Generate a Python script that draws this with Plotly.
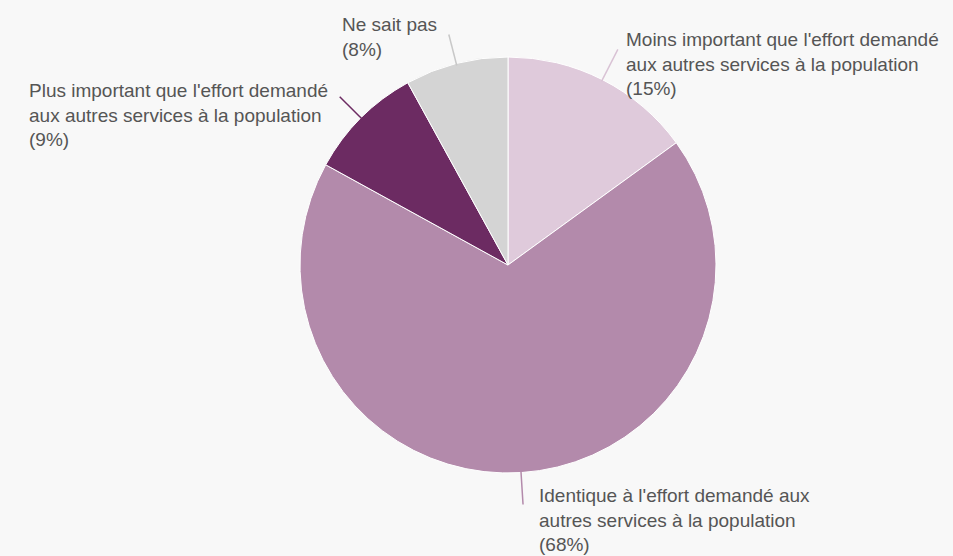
import math
import plotly.graph_objects as go

# Survey answers (clockwise from 12 o'clock) and their shares in %
categories = [
    "Moins important que l'effort demandé<br>aux autres services à la population",
    "Identique à l'effort demandé aux<br>autres services à la population",
    "Plus important que l'effort demandé<br>aux autres services à la population",
    "Ne sait pas",
]
shares = [15, 68, 9, 8]
colors = ["#dfcadb", "#b38aab", "#6c2b62", "#d4d4d4"]
leader_colors = ["#d9c3d5", "#b38aab", "#6c2b62", "#c8c8c8"]

W, H = 953, 556
CX, CY, R = 508, 265, 208          # pie centre and radius in pixels

# label placement: leader length, text offset from leader end, anchor side
leader_len = [34, 32, 30, 30]
text_dx = [6, 14, -10, -10]
text_dy = [-22, -22, -19, -22]
text_side = ["left", "left", "right", "right"]

BG = "#f8f8f8"
TEXT = "#555555"


def px(x):
    return x / W


def py(y):
    return 1 - y / H


fig = go.Figure(
    go.Pie(
        labels=categories,
        values=shares,
        marker=dict(colors=colors, line=dict(color="white", width=1)),
        sort=False,
        direction="clockwise",
        rotation=0,
        textinfo="none",
        hoverinfo="label+percent",
        domain=dict(x=[px(CX - R), px(CX + R)], y=[py(CY + R), py(CY - R)]),
        showlegend=False,
    )
)

total = sum(shares)
start = 0.0
shapes, annotations = [], []
for i, (lab, v) in enumerate(zip(categories, shares)):
    mid = (start + v / 2) / total * 2 * math.pi
    start += v
    sx, sy = math.sin(mid), -math.cos(mid)
    x0, y0 = CX + (R - 2) * sx, CY + (R - 2) * sy
    x1, y1 = CX + (R + leader_len[i]) * sx, CY + (R + leader_len[i]) * sy
    shapes.append(dict(type="line", xref="paper", yref="paper",
                       x0=px(x0), y0=py(y0), x1=px(x1), y1=py(y1),
                       line=dict(color=leader_colors[i], width=1.5), layer="above"))
    annotations.append(dict(
        xref="paper", yref="paper",
        x=px(x1 + text_dx[i]), y=py(y1 + text_dy[i]),
        xanchor=text_side[i], yanchor="top", align="left",
        text=f"{lab}<br>({v}%)", showarrow=False,
        font=dict(family="Liberation Sans, Arial, sans-serif", size=19, color=TEXT),
    ))

fig.update_layout(
    width=W, height=H, autosize=False,
    margin=dict(l=0, r=0, t=0, b=0),
    paper_bgcolor=BG, plot_bgcolor=BG,
    shapes=shapes, annotations=annotations,
)

fig.write_html("out.html")
